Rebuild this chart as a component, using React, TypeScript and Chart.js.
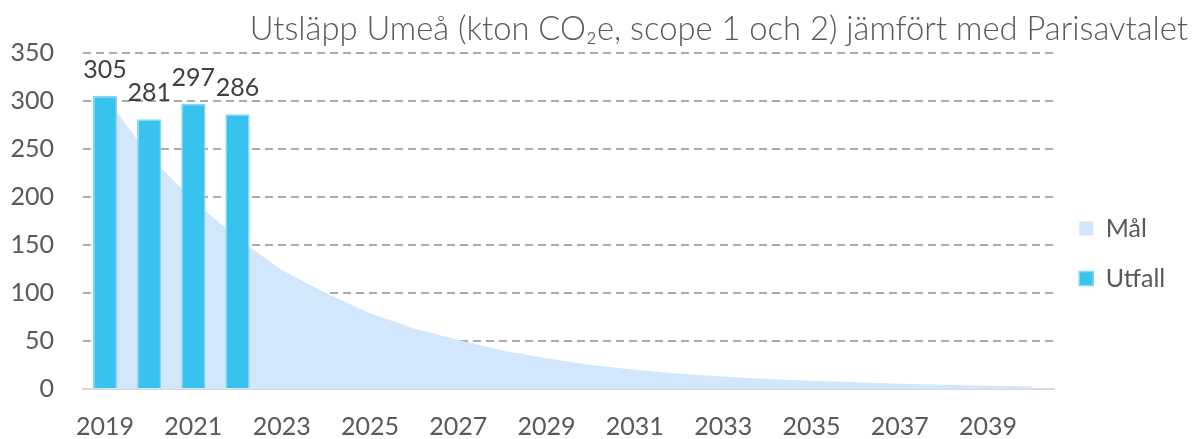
import React, { useEffect, useRef } from "react";
import { Chart, registerables } from "chart.js";

Chart.register(...registerables);

const years = [
  "2019", "2020", "2021", "2022", "2023", "2024", "2025", "2026", "2027", "2028", "2029",
  "2030", "2031", "2032", "2033", "2034", "2035", "2036", "2037", "2038", "2039", "2040",
];
const malValues = [305, 243, 196, 157, 124, 100, 79, 63, 51, 40, 32, 25, 20, 16, 13, 10.5, 8.5, 7, 5.5, 4.5, 3.5, 2.5];
const utfallValues = [305, 281, 297, 286];
const titleText = "Utsläpp Umeå (kton CO₂e, scope 1 och 2) jämfört med Parisavtalet";
const seriesNames = ["Mål", "Utfall"];

const FONT = "Lato";

const barLabelPlugin = {
  id: "barLabels",
  afterDatasetsDraw(chart: any) {
    const ctx = chart.ctx;
    chart.data.datasets.forEach((ds: any, i: number) => {
      if (ds.type !== "bar") return;
      const meta = chart.getDatasetMeta(i);
      meta.data.forEach((el: any, j: number) => {
        const v = ds.data[j];
        if (v == null) return;
        ctx.save();
        ctx.font = `25px ${FONT}`;
        ctx.fillStyle = "#404040";
        ctx.textAlign = "center";
        ctx.textBaseline = "middle";
        ctx.fillText(String(v), el.x, el.y - 26);
        ctx.restore();
      });
    });
  },
};

export default function App() {
  const ref = useRef<HTMLCanvasElement>(null);
  useEffect(() => {
    document.body.style.margin = "0";
    const defaultGen = (Chart as any).defaults.plugins.legend.labels.generateLabels;
    const chart = new Chart(ref.current as HTMLCanvasElement, {
      type: "bar",
      data: {
        labels: years,
        datasets: [
          {
            type: "line",
            label: seriesNames[0],
            data: malValues,
            backgroundColor: "#D2E7FC",
            borderColor: "rgba(0,0,0,0)",
            borderWidth: 0,
            pointRadius: 0,
            tension: 0,
            fill: "origin",
            order: 2,
          } as any,
          {
            type: "bar",
            label: seriesNames[1],
            data: utfallValues,
            backgroundColor: "#38C2EE",
            borderColor: "#86D5F4",
            borderWidth: 1.5,
            barPercentage: 0.55,
            categoryPercentage: 1,
            order: 1,
          } as any,
        ],
      },
      options: {
        responsive: false,
        animation: false,
        layout: { padding: { left: 0, right: 12, top: 0, bottom: 0 } },
        plugins: {
          tooltip: { enabled: false },
          title: {
            display: true,
            text: titleText,
            align: "end",
            color: "#595959",
            font: { family: FONT, size: 32.75, weight: "300" as any },
            padding: { top: 10, bottom: 3.6 },
          },
          legend: {
            position: "right",
            title: {
              display: true,
              text: " ",
              font: { family: FONT, size: 10 },
              padding: { top: 28, bottom: 28 },
            },
            labels: {
              color: "#595959",
              font: { family: FONT, size: 25 },
              boxWidth: 14,
              boxHeight: 14,
              padding: 25,
              sort: (a: any, b: any) => a.datasetIndex - b.datasetIndex,
              generateLabels: (c: any) =>
                defaultGen(c).map((it: any) => ({ ...it, text: it.text + "\u00A0\u00A0" })),
            },
          },
        },
        scales: {
          x: {
            offset: true,
            grid: { display: false, drawTicks: false },
            border: { display: true, color: "#D9D9D9", width: 2 },
            afterFit: (scale: any) => {
              scale.height = 50;
            },
            ticks: {
              autoSkip: false,
              maxRotation: 0,
              padding: 23,
              color: "#595959",
              font: { family: FONT, size: 25 },
              callback: (_v: any, i: number) => (i % 2 === 0 ? years[i] : ""),
            },
          },
          y: {
            min: 0,
            max: 350,
            afterFit: (scale: any) => {
              scale.width = 83;
            },
            ticks: {
              stepSize: 50,
              padding: 29,
              color: "#595959",
              font: { family: FONT, size: 25 },
            },
            grid: { color: "#ABABAB", lineWidth: 2, drawTicks: false, borderDash: [8, 5] } as any,
            border: { display: false, dash: [8, 5] },
          },
        },
      },
      plugins: [barLabelPlugin],
    });
    return () => chart.destroy();
  }, []);
  return (
    <div style={{ position: "absolute", left: 0, top: 0, width: 1200, height: 439 }}>
      <canvas ref={ref} width={1200} height={439} />
    </div>
  );
}
